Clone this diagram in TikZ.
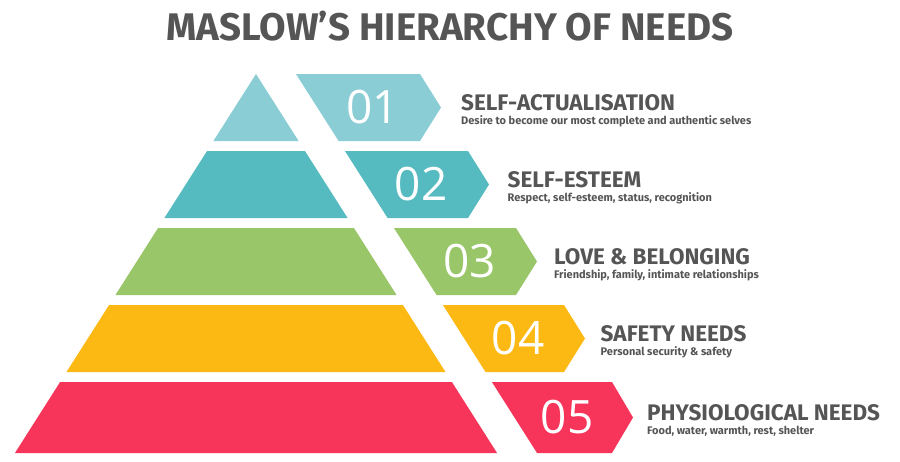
\documentclass[tikz,border=0pt]{standalone}
\usepackage{fontspec}
\setmainfont{Fira Sans}
\newfontfamily\numfont{Open Sans}
\usepackage{tikz}
\definecolor{lvlA}{HTML}{8ACDD5}
\definecolor{lvlB}{HTML}{56BBC0}
\definecolor{lvlC}{HTML}{9AC66A}
\definecolor{lvlD}{HTML}{FDB913}
\definecolor{lvlE}{HTML}{F7345A}
\definecolor{ink}{HTML}{555555}
\tikzset{
  title/.style={anchor=south west, inner sep=0pt, text=ink, font=\bfseries\fontsize{22.5}{22}\selectfont},
  sub/.style={anchor=north west, inner sep=0pt, text=ink, font=\bfseries\fontsize{11}{11}\selectfont},
  num/.style={text=white, inner sep=0pt, font=\numfont\fontsize{46}{46}\selectfont}
}
\begin{document}
\begin{tikzpicture}[x=1pt, y=-1pt]
\useasboundingbox (0,0) rectangle (900,461);
\node[text=ink, font=\bfseries\fontsize{38.5}{38}\selectfont, inner sep=0pt] (head) at (450,26) {MASLOW’S HIERARCHY OF NEEDS};
%
\foreach \i/\col/\nr/\ttl/\txt in {
  0/lvlA/01/SELF-ACTUALISATION/Desire to become our most complete and authentic selves,
  1/lvlB/02/SELF-ESTEEM/{Respect, self-esteem, status, recognition},
  2/lvlC/03/LOVE \& BELONGING/{Friendship, family, intimate relationships},
  3/lvlD/04/SAFETY NEEDS/Personal security \& safety,
  4/lvlE/05/PHYSIOLOGICAL NEEDS/{Food, water, warmth, rest, shelter}} {
  \pgfmathsetmacro\yt{74+77*\i}
  \pgfmathsetmacro\yb{\i==4 ? 453 : \yt+67}
  \pgfmathsetmacro\xlt{256-0.636*(\yt-74)}
  \pgfmathsetmacro\xlb{256-0.636*(\yb-74)}
  \pgfmathsetmacro\xrt{256+0.636*(\yt-74)}
  \pgfmathsetmacro\xrb{256+0.636*(\yb-74)}
  \pgfmathsetmacro\xe{420+48*\i}
  \pgfmathsetmacro\ym{(\yt+\yb)/2}
  % layer of the pyramid
  \fill[\col] (\xlt,\yt) -- (\xrt,\yt) -- (\xrb,\yb) -- (\xlb,\yb) -- cycle;
  % tab
  \fill[\col] (\xrt+40,\yt) -- (\xe,\yt) -- (\xe+21,\ym) -- (\xe,\yb) -- (\xrb+40,\yb) -- cycle;
  \node[num] (n\nr) at ({(\xrt+\xrb)/2+40+(\xe-(\xrt+\xrb)/2-40)/2+4},\ym) {\nr};
  \node[title] (t\nr) at (461+46.5*\i,\ym+4) {\ttl};
  \node[sub] (s\nr) at (461+46.5*\i,\ym+8) {\txt};
}
\end{tikzpicture}
\end{document}
